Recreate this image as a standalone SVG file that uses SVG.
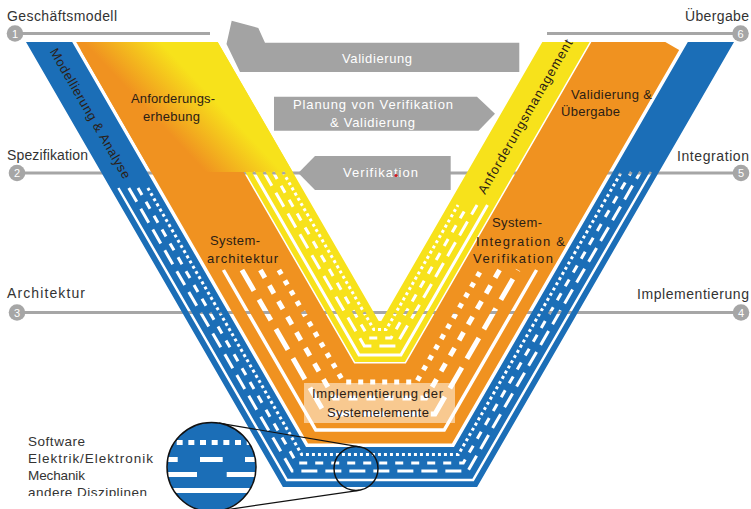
<svg xmlns="http://www.w3.org/2000/svg" width="751" height="509" viewBox="0 0 751 509">
<style>
text{font-family:"Liberation Sans","DejaVu Sans",sans-serif;}
.lbl{font-size:14px;fill:#333;}
.band{font-size:13px;fill:#2b2015;}
.arr{font-size:13px;fill:#fff;}
.num{font-size:11px;fill:#fff;text-anchor:middle;}
.leg{font-size:13.5px;fill:#333;}
.gl{stroke:#a6a6a6;stroke-width:3;fill:none;}
.badge{fill:#a6a6a6;}
.gray{fill:#a3a3a3;}
.st{fill:none;stroke:#000;stroke-linejoin:miter;}
.mw{fill:none;stroke:#fff;}
.ring{fill:none;stroke:#111;stroke-width:1.5;}
</style>
<defs>
<clipPath id="topcut"><rect x="0" y="42" width="751" height="467"/></clipPath>
<clipPath id="legcut"><rect x="0" y="480" width="200" height="16"/></clipPath>
<clipPath id="mag"><circle cx="211.5" cy="467" r="44.5"/></clipPath>
<linearGradient id="fade" gradientUnits="userSpaceOnUse" x1="162.6" y1="126.2" x2="203.4" y2="87.8">
<stop offset="0" stop-color="#f09220"/>
<stop offset="1" stop-color="#f7e21b"/>
</linearGradient>
<mask id="cut" maskUnits="userSpaceOnUse" x="0" y="0" width="751" height="509">
<rect width="751" height="509" fill="#fff"/>
<polyline class="st" stroke-width="2.5" points="118.37,188 286.94,480 473.06,480 650.86,172"/>
<polyline class="st" stroke-width="3" stroke-dasharray="16 8" points="128.77,188 292.14,471 467.86,471 640.46,172"/>
<polyline class="st" stroke-width="3" stroke-dasharray="8 8" points="138,188 296.76,463 463.24,463 631.23,172"/>
<polyline class="st" stroke-width="3" stroke-dasharray="3 3" points="147.82,188 301.66,454.5 458.34,454.5 621.41,172"/>
<polyline class="st" stroke-width="3.5" points="223.46,270 315.81,430 444.19,430 536.54,270"/>
<polyline class="st" stroke-width="5" stroke-dasharray="24 10" points="241.93,270 325.05,414 434.95,414 518.07,270"/>
<polyline class="st" stroke-width="5" stroke-dasharray="9 9" points="260.41,270 334.28,398 425.72,398 499.59,270"/>
<polyline class="st" stroke-width="5" stroke-dasharray="5 7" points="278.88,270 343.52,382 416.48,382 481.12,270"/>
<polyline class="st" stroke-width="3" points="253.48,172 359.11,355 400.89,355 487.47,205"/>
<polyline class="st" stroke-width="3" stroke-dasharray="16 8" points="263.87,172 364.31,346 395.69,346 477.08,205"/>
<polyline class="st" stroke-width="3" stroke-dasharray="8 8" points="273.11,172 368.93,338 391.07,338 467.84,205"/>
<polyline class="st" stroke-width="3" stroke-dasharray="3 3" points="282.93,172 373.83,329.5 386.17,329.5 458.02,205"/>
</mask>
</defs>
<rect width="751" height="509" fill="#fff"/>

<g id="levels">
<line class="gl" x1="15" y1="33.5" x2="210" y2="33.5"/>
<line class="gl" x1="547" y1="33.5" x2="740" y2="33.5"/>
<line class="gl" x1="17" y1="173" x2="741" y2="173"/>
<line class="gl" x1="17" y1="312.5" x2="741" y2="312.5"/>
<circle class="badge" cx="15" cy="33.5" r="8.3"/><text class="num" x="15" y="37.5">1</text>
<circle class="badge" cx="17" cy="173" r="8.3"/><text class="num" x="17" y="177">2</text>
<circle class="badge" cx="17" cy="312.5" r="8.3"/><text class="num" x="17" y="316.5">3</text>
<circle class="badge" cx="741" cy="312.5" r="8.3"/><text class="num" x="741" y="316.5">4</text>
<circle class="badge" cx="741" cy="173" r="8.3"/><text class="num" x="741" y="177">5</text>
<circle class="badge" cx="740.5" cy="33.5" r="8.3"/><text class="num" x="740.5" y="37.5">6</text>
<text class="lbl" x="7" y="21" textLength="110">Geschäftsmodell</text>
<text class="lbl" x="7" y="160" textLength="81">Spezifikation</text>
<text class="lbl" x="7" y="298" textLength="78">Architektur</text>
<text class="lbl" x="685" y="21" textLength="64">Übergabe</text>
<text class="lbl" x="677" y="160.5" textLength="72">Integration</text>
<text class="lbl" x="637" y="299" textLength="112">Implementierung</text>
</g>

<g id="v-model" mask="url(#cut)">
<g clip-path="url(#topcut)" fill="none" stroke-linejoin="miter" stroke-miterlimit="4">
<polyline id="band-blue" stroke="#1b6eb7" stroke-width="40" points="42.17,30 294.45,467 465.55,467 717.84,30"/>
<polyline id="band-orange" stroke="#f09220" stroke-width="80" points="115.49,30 331.11,403.5 428.89,403.5 644.51,30"/>
<polyline id="band-yellow" stroke="#f7e21b" stroke-width="41" points="187.08,30 366.9,341.5 393.1,341.5 572.92,30"/>
</g>
<polygon fill="url(#fade)" points="76.2,42 217.7,42 292.8,172 151.3,172"/>
</g>
<rect id="impl-box" x="304" y="383" width="151" height="40" fill="#fff" fill-opacity="0.5"/>

<g id="arrows">
<g id="arrow-validierung"><polygon class="gray" points="231.7,20.7 258.3,28 265,42.7 519.3,42.7 519.3,72 240,72 226.5,44"/>
<text class="arr" x="342" y="63" textLength="70">Validierung</text></g>
<g id="arrow-planung"><polygon class="gray" points="274,96.7 477,96.7 495,113.7 478.5,130.7 274,130.7"/>
<text class="arr" x="293" y="108.5" textLength="160">Planung von Verifikation</text>
<text class="arr" x="330" y="126.5" textLength="85">&amp; Validierung</text></g>
<g id="arrow-verifikation"><polygon class="gray" points="298.3,173 315,156 450.7,156 450.7,190 315,190"/>
<text class="arr" x="343" y="177" textLength="75">Verifikation</text>
<circle cx="396" cy="175.5" r="1.6" fill="#d0161e"/></g>
</g>

<g id="band-labels">
<text class="band" transform="translate(49.5,51.5) rotate(60)" textLength="148">Modellierung &amp; Analyse</text>
<text class="band" transform="translate(485,195) rotate(-60)" textLength="176">Anforderungsmanagement</text>
<text class="band" x="131" y="103" textLength="84">Anforderungs-</text>
<text class="band" x="143" y="120.5" textLength="57">erhebung</text>
<text class="band" x="210" y="245" textLength="50">System-</text>
<text class="band" x="207" y="263" textLength="71">architektur</text>
<text class="band" x="492" y="227" textLength="50">System-</text>
<text class="band" x="476" y="245.5" textLength="89">Integration &amp;</text>
<text class="band" x="473" y="263" textLength="80">Verifikation</text>
<text class="band" x="571" y="99" textLength="81">Validierung &amp;</text>
<text class="band" x="561" y="115.5" textLength="59">Übergabe</text>
<text class="band" x="312" y="398" textLength="131">Implementierung der</text>
<text class="band" x="327" y="417" textLength="102">Systemelemente</text>
</g>

<g id="legend">
<text class="leg" x="28" y="446" textLength="57">Software</text>
<text class="leg" x="28" y="463" textLength="125">Elektrik/Elektronik</text>
<text class="leg" x="28" y="480" textLength="57">Mechanik</text>
<text class="leg" x="28" y="497" textLength="119" clip-path="url(#legcut)">andere Disziplinen</text>
</g>

<g id="magnifier">
<line x1="218.9" y1="423.1" x2="359.65" y2="446.8" stroke="#111" stroke-width="1.2"/>
<line x1="217.98" y1="511" x2="359.2" y2="490.3" stroke="#111" stroke-width="1.2"/>
<g clip-path="url(#mag)">
<circle cx="211.5" cy="467" r="44.5" fill="#1b6eb7"/>
<line class="mw" x1="165" y1="442.5" x2="265" y2="442.5" stroke-width="5" stroke-dasharray="6 5.67"/>
<line class="mw" x1="155" y1="459.5" x2="265" y2="459.5" stroke-width="5" stroke-dasharray="22.7 22.3"/>
<line class="mw" x1="152" y1="474.5" x2="275" y2="474.5" stroke-width="5" stroke-dasharray="45 29.7"/>
<line class="mw" x1="160" y1="490.5" x2="265" y2="490.5" stroke-width="5"/>
</g>
<circle class="ring" cx="211.5" cy="467" r="44.5"/>
<circle class="ring" cx="356" cy="468.5" r="22"/>
</g>
</svg>
